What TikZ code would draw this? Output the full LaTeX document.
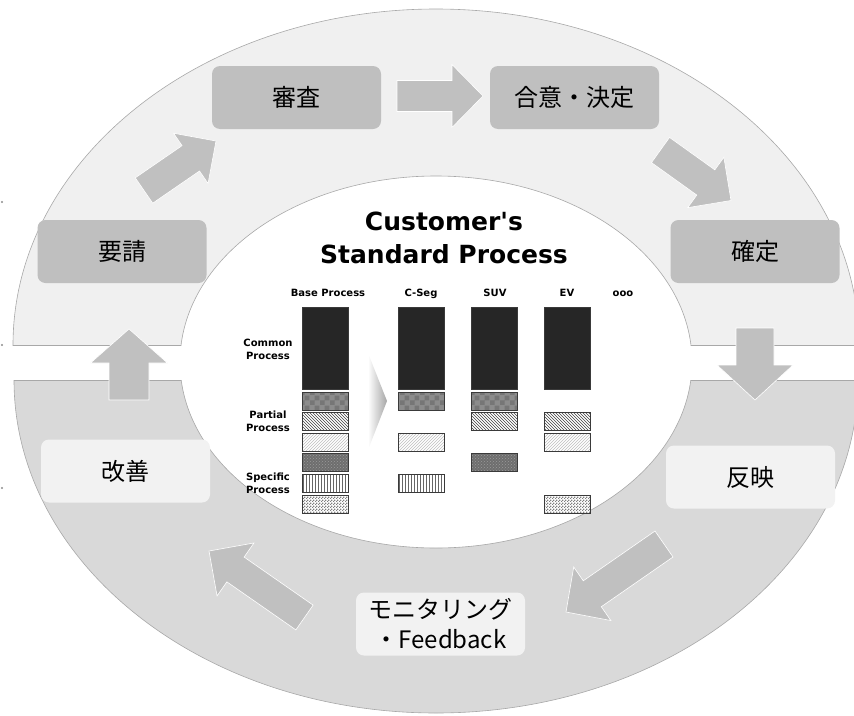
\documentclass[tikz,border=0pt]{standalone}
\usepackage{fontspec}
\usetikzlibrary{calc,patterns}
\newfontfamily\jpfont{Noto Sans CJK JP}
\newfontfamily\latfont{DejaVu Sans}[Ligatures=TeXOff]
\definecolor{ringup}{HTML}{F0F0F0}
\definecolor{ringlow}{HTML}{D9D9D9}
\definecolor{ringline}{HTML}{A8A8A8}
\definecolor{boxdark}{HTML}{BFBFBF}
\definecolor{boxlight}{HTML}{F2F2F2}
\definecolor{arrowgray}{HTML}{C0C0C0}
\definecolor{barblack}{HTML}{262626}
\definecolor{barline}{HTML}{3A3A3A}
\definecolor{patAbg}{HTML}{8C8C8C}
\definecolor{patAfg}{HTML}{767676}
\definecolor{patDbg}{HTML}{6E6E6E}
\definecolor{patDfg}{HTML}{9A9A9A}
\pgfdeclarepatternformonly{bigchecker}{\pgfpointorigin}{\pgfqpoint{10pt}{10pt}}{\pgfqpoint{10pt}{10pt}}{%
  \pgfpathrectangle{\pgfpointorigin}{\pgfqpoint{5pt}{5pt}}%
  \pgfpathrectangle{\pgfqpoint{5pt}{5pt}}{\pgfqpoint{5pt}{5pt}}%
  \pgfusepath{fill}}
\pgfdeclarepatternformonly{finechecker}{\pgfpointorigin}{\pgfqpoint{3pt}{3pt}}{\pgfqpoint{3pt}{3pt}}{%
  \pgfpathrectangle{\pgfpointorigin}{\pgfqpoint{1.5pt}{1.5pt}}%
  \pgfpathrectangle{\pgfqpoint{1.5pt}{1.5pt}}{\pgfqpoint{1.5pt}{1.5pt}}%
  \pgfusepath{fill}}
\newcommand{\blockarrow}[6]{% #1 name, #2 tail, #3 tip, #4 shaft half, #5 head half, #6 head length
  \coordinate (#1-h) at ($(#3)!#6!(#2)$);
  \filldraw[blockarr] ($(#2)!#4!90:(#3)$) -- ($(#1-h)!#4!-90:(#2)$) -- ($(#1-h)!#5!-90:(#2)$)
    -- (#3) -- ($(#1-h)!#5!90:(#2)$) -- ($(#1-h)!#4!90:(#2)$) -- ($(#2)!#4!-90:(#3)$) -- cycle;
}
\begin{document}
\begin{tikzpicture}[x=1pt,y=-1pt,
  ringedge/.style={draw=ringline, line width=0.6pt},
  blockarr/.style={fill=arrowgray, draw=white, line width=0.6pt, line join=miter},
  darkbox/.style={rectangle, rounded corners=8pt, fill=boxdark, minimum width=169pt, minimum height=63pt,
    inner sep=0pt, font=\jpfont\fontsize{24}{30}\selectfont},
  lightbox/.style={darkbox, fill=boxlight},
  barbox/.style={draw=barline, line width=0.8pt},
  patA/.style={preaction={fill=patAbg}, pattern=bigchecker, pattern color=patAfg},
  patB/.style={preaction={fill=white}, pattern=north west lines, pattern color=black!75},
  patC/.style={preaction={fill=white}, pattern=north east lines, pattern color=black!25},
  patD/.style={preaction={fill=patDbg}, pattern=crosshatch dots, pattern color=patDfg},
  patE/.style={preaction={fill=white}, pattern=vertical lines, pattern color=black!60},
  patF/.style={preaction={fill=white}, pattern=finechecker, pattern color=black!50},
  titletext/.style={anchor=base, inner sep=0pt, font=\latfont\bfseries\fontsize{25}{30}\selectfont},
  colab/.style={anchor=base, inner sep=0pt, font=\latfont\bfseries\fontsize{10}{12}\selectfont},
  rowlab/.style={align=center, inner sep=0pt, font=\latfont\bfseries\fontsize{10}{13}\selectfont}]
\useasboundingbox (0,0) rectangle (854,715);
% upper half ring
\begin{scope}
  \clip (0,0) rectangle (854,345);
  \fill[ringup, even odd rule] (436,345) ellipse [x radius=423pt, y radius=336pt]
    (436,362) ellipse [x radius=256pt, y radius=186pt];
  \draw[ringedge] (436,345) ellipse [x radius=423pt, y radius=336pt];
  \draw[ringedge] (436,362) ellipse [x radius=256pt, y radius=186pt];
\end{scope}
\draw[ringedge] (13,345) -- (181.1,345) (690.9,345) -- (860,345);
% lower half ring
\begin{scope}
  \clip (0,380) rectangle (854,715);
  \fill[ringlow, even odd rule] (436,380) ellipse [x radius=422pt, y radius=333pt]
    (436,362) ellipse [x radius=256pt, y radius=186pt];
  \draw[ringedge] (436,380) ellipse [x radius=422pt, y radius=333pt];
  \draw[ringedge] (436,362) ellipse [x radius=256pt, y radius=186pt];
\end{scope}
\draw[ringedge] (14,380) -- (181.2,380) (690.8,380) -- (860,380);
% small marks on the left edge
\foreach \yy in {202,345,488} \fill[black!45] (2,\yy) circle (1.2pt);
% boxes
\node[darkbox] (shinsa) at (296.5,97.5) {審査};
\node[darkbox] (goui) at (574.5,97.5) {合意・決定};
\node[darkbox] (kakutei) at (755,251.5) {確定};
\node[darkbox] (yousei) at (122,251.5) {要請};
\node[lightbox] (kaizen) at (125.5,471) {改善};
\node[lightbox] (hanei) at (750.5,477) {反映};
\node[lightbox, align=center, font=\jpfont\fontsize{24}{30}\selectfont] (monitor) at (440.5,624) {モニタリング\\・Feedback};
% block arrows
\coordinate (a1t) at (144,190.5); \coordinate (a1p) at (216,141);
\coordinate (a2t) at (397,96);    \coordinate (a2p) at (483,96);
\coordinate (a3t) at (660.5,150); \coordinate (a3p) at (731,200.5);
\coordinate (a4t) at (755,328);   \coordinate (a4p) at (755,400);
\coordinate (a5t) at (664,544);   \coordinate (a5p) at (566,612);
\coordinate (a6t) at (304.5,617.5); \coordinate (a6p) at (209,551);
\coordinate (a7t) at (129,400);   \coordinate (a7p) at (129,329);
\blockarrow{a1}{a1t}{a1p}{15.4pt}{30.5pt}{30.6pt}
\blockarrow{a2}{a2t}{a2p}{15.5pt}{31.5pt}{31pt}
\blockarrow{a3}{a3t}{a3p}{15.5pt}{31pt}{31pt}
\blockarrow{a4}{a4t}{a4p}{19pt}{38pt}{35pt}
\blockarrow{a5}{a5t}{a5p}{15.8pt}{32.6pt}{32pt}
\blockarrow{a6}{a6t}{a6p}{15.1pt}{32.3pt}{32.3pt}
\blockarrow{a7}{a7t}{a7p}{20pt}{38.5pt}{34pt}
% centre content
\node[titletext] (title1) at (444,230) {Customer's};
\node[titletext] (title2) at (444,263) {Standard Process};
\node[colab] (hbase) at (328,296) {Base Process};
\node[colab] (hcseg) at (421,296) {C-Seg};
\node[colab] (hsuv) at (495,296) {SUV};
\node[colab] (hev) at (567,296) {EV};
\node[colab] (hmore) at (623,296) {ooo};
\node[rowlab] (lcommon) at (268,349) {Common\\Process};
\node[rowlab] (lpartial) at (268,421) {Partial\\Process};
\node[rowlab] (lspecific) at (268,483.5) {Specific\\Process};
\shade[left color=white, right color=black!35] (368,353) -- (387,401) -- (368,450) -- cycle;
\foreach \x in {302,398,471,544} \draw[barbox, fill=barblack] (\x,307) rectangle ++(46,82);
\foreach \x in {302,398,471} \draw[barbox, patA] (\x,392) rectangle ++(46,18);
\foreach \x in {302,471,544} \draw[barbox, patB] (\x,412.6) rectangle ++(46,18);
\foreach \x in {302,398,544} \draw[barbox, patC] (\x,433.2) rectangle ++(46,18);
\foreach \x in {302,471} \draw[barbox, patD] (\x,453.8) rectangle ++(46,18);
\foreach \x in {302,398} \draw[barbox, patE] (\x,474.4) rectangle ++(46,18);
\foreach \x in {302,544} \draw[barbox, patF] (\x,495) rectangle ++(46,18);
\end{tikzpicture}
\end{document}
